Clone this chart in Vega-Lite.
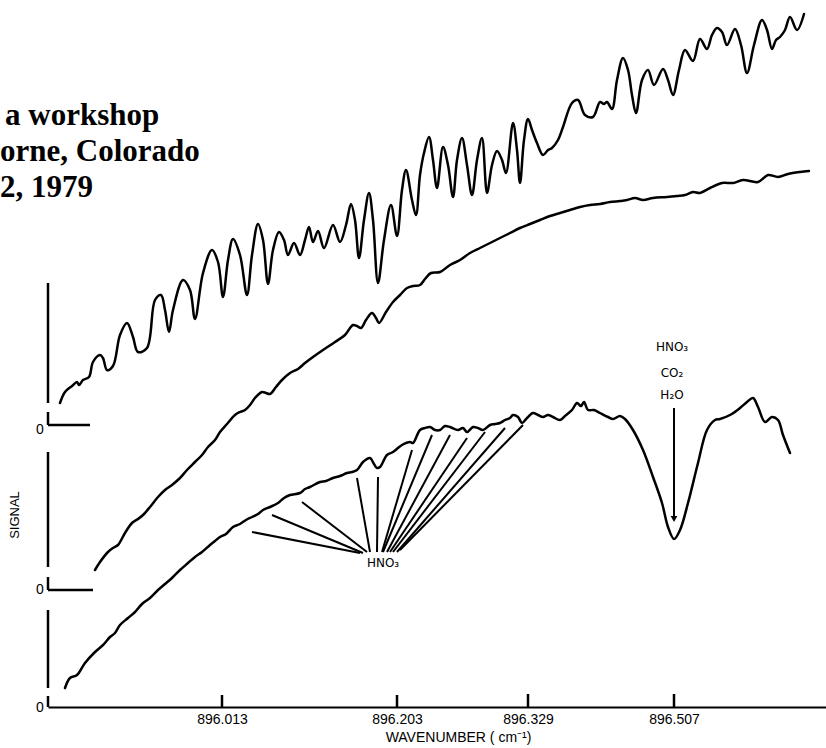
{
  "$schema": "https://vega.github.io/schema/vega-lite/v6.json",
  "width": 778,
  "height": 707,
  "autosize": "none",
  "padding": {"left": 48, "top": 0, "right": 0, "bottom": 41},
  "background": "white",
  "config": {"view": {"stroke": null}, "font": "Liberation Sans"},
  "datasets": {
    "traces": [
      {"trace": "top", "x": 60, "v": 304}, {"trace": "top", "x": 65, "v": 315}, {"trace": "top", "x": 72, "v": 321}, {"trace": "top", "x": 77, "v": 325}, {"trace": "top", "x": 79, "v": 322}, {"trace": "top", "x": 83, "v": 327}, {"trace": "top", "x": 89, "v": 330}, {"trace": "top", "x": 93, "v": 345}, {"trace": "top", "x": 100, "v": 352}, {"trace": "top", "x": 103, "v": 349}, {"trace": "top", "x": 107, "v": 337}, {"trace": "top", "x": 113, "v": 341}, {"trace": "top", "x": 120, "v": 372}, {"trace": "top", "x": 127, "v": 384}, {"trace": "top", "x": 133, "v": 370}, {"trace": "top", "x": 138, "v": 355}, {"trace": "top", "x": 147, "v": 359}, {"trace": "top", "x": 155, "v": 407}, {"trace": "top", "x": 161, "v": 412}, {"trace": "top", "x": 165, "v": 397}, {"trace": "top", "x": 169, "v": 375}, {"trace": "top", "x": 173, "v": 397}, {"trace": "top", "x": 183, "v": 427}, {"trace": "top", "x": 190, "v": 417}, {"trace": "top", "x": 195, "v": 388}, {"trace": "top", "x": 203, "v": 434}, {"trace": "top", "x": 212, "v": 457}, {"trace": "top", "x": 218, "v": 445}, {"trace": "top", "x": 223, "v": 410}, {"trace": "top", "x": 228, "v": 447}, {"trace": "top", "x": 233, "v": 468}, {"trace": "top", "x": 240, "v": 452}, {"trace": "top", "x": 247, "v": 412}, {"trace": "top", "x": 252, "v": 452}, {"trace": "top", "x": 258, "v": 483}, {"trace": "top", "x": 263, "v": 467}, {"trace": "top", "x": 268, "v": 423}, {"trace": "top", "x": 273, "v": 457}, {"trace": "top", "x": 279, "v": 475}, {"trace": "top", "x": 284, "v": 467}, {"trace": "top", "x": 288, "v": 452}, {"trace": "top", "x": 294, "v": 464}, {"trace": "top", "x": 300, "v": 452}, {"trace": "top", "x": 305, "v": 467}, {"trace": "top", "x": 309, "v": 480}, {"trace": "top", "x": 313, "v": 465}, {"trace": "top", "x": 318, "v": 476}, {"trace": "top", "x": 324, "v": 459}, {"trace": "top", "x": 333, "v": 482}, {"trace": "top", "x": 340, "v": 465}, {"trace": "top", "x": 346, "v": 482}, {"trace": "top", "x": 351, "v": 503}, {"trace": "top", "x": 355, "v": 487}, {"trace": "top", "x": 359, "v": 449}, {"trace": "top", "x": 364, "v": 487}, {"trace": "top", "x": 369, "v": 514}, {"trace": "top", "x": 373, "v": 487}, {"trace": "top", "x": 378, "v": 424}, {"trace": "top", "x": 384, "v": 467}, {"trace": "top", "x": 391, "v": 502}, {"trace": "top", "x": 397, "v": 471}, {"trace": "top", "x": 402, "v": 517}, {"trace": "top", "x": 406, "v": 537}, {"trace": "top", "x": 412, "v": 507}, {"trace": "top", "x": 416, "v": 492}, {"trace": "top", "x": 420, "v": 532}, {"trace": "top", "x": 424, "v": 554}, {"trace": "top", "x": 429, "v": 570}, {"trace": "top", "x": 433, "v": 547}, {"trace": "top", "x": 437, "v": 519}, {"trace": "top", "x": 443, "v": 560}, {"trace": "top", "x": 448, "v": 542}, {"trace": "top", "x": 453, "v": 510}, {"trace": "top", "x": 457, "v": 547}, {"trace": "top", "x": 462, "v": 569}, {"trace": "top", "x": 467, "v": 542}, {"trace": "top", "x": 472, "v": 512}, {"trace": "top", "x": 477, "v": 547}, {"trace": "top", "x": 482, "v": 569}, {"trace": "top", "x": 487, "v": 514}, {"trace": "top", "x": 492, "v": 542}, {"trace": "top", "x": 497, "v": 556}, {"trace": "top", "x": 502, "v": 547}, {"trace": "top", "x": 506, "v": 534}, {"trace": "top", "x": 513, "v": 584}, {"trace": "top", "x": 517, "v": 557}, {"trace": "top", "x": 520, "v": 524}, {"trace": "top", "x": 524, "v": 567}, {"trace": "top", "x": 528, "v": 588}, {"trace": "top", "x": 532, "v": 577}, {"trace": "top", "x": 537, "v": 564}, {"trace": "top", "x": 543, "v": 552}, {"trace": "top", "x": 548, "v": 557}, {"trace": "top", "x": 552, "v": 559}, {"trace": "top", "x": 558, "v": 567}, {"trace": "top", "x": 563, "v": 580}, {"trace": "top", "x": 572, "v": 604}, {"trace": "top", "x": 578, "v": 607}, {"trace": "top", "x": 585, "v": 592}, {"trace": "top", "x": 593, "v": 590}, {"trace": "top", "x": 600, "v": 605}, {"trace": "top", "x": 604, "v": 603}, {"trace": "top", "x": 607, "v": 605}, {"trace": "top", "x": 612, "v": 598}, {"trace": "top", "x": 617, "v": 627}, {"trace": "top", "x": 623, "v": 649}, {"trace": "top", "x": 628, "v": 637}, {"trace": "top", "x": 632, "v": 612}, {"trace": "top", "x": 636, "v": 594}, {"trace": "top", "x": 642, "v": 627}, {"trace": "top", "x": 648, "v": 637}, {"trace": "top", "x": 654, "v": 622}, {"trace": "top", "x": 663, "v": 638}, {"trace": "top", "x": 668, "v": 627}, {"trace": "top", "x": 673, "v": 612}, {"trace": "top", "x": 679, "v": 637}, {"trace": "top", "x": 685, "v": 657}, {"trace": "top", "x": 693, "v": 646}, {"trace": "top", "x": 700, "v": 668}, {"trace": "top", "x": 707, "v": 658}, {"trace": "top", "x": 712, "v": 672}, {"trace": "top", "x": 717, "v": 679}, {"trace": "top", "x": 722, "v": 675}, {"trace": "top", "x": 727, "v": 662}, {"trace": "top", "x": 735, "v": 678}, {"trace": "top", "x": 741, "v": 662}, {"trace": "top", "x": 747, "v": 634}, {"trace": "top", "x": 754, "v": 662}, {"trace": "top", "x": 762, "v": 687}, {"trace": "top", "x": 767, "v": 677}, {"trace": "top", "x": 772, "v": 658}, {"trace": "top", "x": 776, "v": 667}, {"trace": "top", "x": 780, "v": 670}, {"trace": "top", "x": 785, "v": 677}, {"trace": "top", "x": 790, "v": 690}, {"trace": "top", "x": 797, "v": 677}, {"trace": "top", "x": 804, "v": 693},

      {"trace": "middle", "x": 95, "v": 137}, {"trace": "middle", "x": 100, "v": 145}, {"trace": "middle", "x": 108, "v": 155}, {"trace": "middle", "x": 113, "v": 159}, {"trace": "middle", "x": 118, "v": 162}, {"trace": "middle", "x": 125, "v": 174}, {"trace": "middle", "x": 132, "v": 184}, {"trace": "middle", "x": 138, "v": 188}, {"trace": "middle", "x": 143, "v": 192}, {"trace": "middle", "x": 150, "v": 200}, {"trace": "middle", "x": 158, "v": 210}, {"trace": "middle", "x": 165, "v": 217}, {"trace": "middle", "x": 172, "v": 222}, {"trace": "middle", "x": 180, "v": 229}, {"trace": "middle", "x": 187, "v": 237}, {"trace": "middle", "x": 195, "v": 245}, {"trace": "middle", "x": 202, "v": 252}, {"trace": "middle", "x": 208, "v": 260}, {"trace": "middle", "x": 215, "v": 267}, {"trace": "middle", "x": 220, "v": 275}, {"trace": "middle", "x": 227, "v": 283}, {"trace": "middle", "x": 235, "v": 292}, {"trace": "middle", "x": 240, "v": 295}, {"trace": "middle", "x": 245, "v": 297}, {"trace": "middle", "x": 250, "v": 302}, {"trace": "middle", "x": 255, "v": 309}, {"trace": "middle", "x": 262, "v": 315}, {"trace": "middle", "x": 266, "v": 314}, {"trace": "middle", "x": 270, "v": 313}, {"trace": "middle", "x": 276, "v": 320}, {"trace": "middle", "x": 282, "v": 327}, {"trace": "middle", "x": 290, "v": 334}, {"trace": "middle", "x": 298, "v": 338}, {"trace": "middle", "x": 305, "v": 344}, {"trace": "middle", "x": 313, "v": 350}, {"trace": "middle", "x": 323, "v": 357}, {"trace": "middle", "x": 335, "v": 365}, {"trace": "middle", "x": 345, "v": 372}, {"trace": "middle", "x": 353, "v": 382}, {"trace": "middle", "x": 357, "v": 381}, {"trace": "middle", "x": 361, "v": 379}, {"trace": "middle", "x": 366, "v": 387}, {"trace": "middle", "x": 372, "v": 394}, {"trace": "middle", "x": 376, "v": 389}, {"trace": "middle", "x": 379, "v": 384}, {"trace": "middle", "x": 386, "v": 395}, {"trace": "middle", "x": 393, "v": 405}, {"trace": "middle", "x": 400, "v": 412}, {"trace": "middle", "x": 407, "v": 419}, {"trace": "middle", "x": 413, "v": 421}, {"trace": "middle", "x": 420, "v": 422}, {"trace": "middle", "x": 425, "v": 428}, {"trace": "middle", "x": 431, "v": 434}, {"trace": "middle", "x": 440, "v": 435}, {"trace": "middle", "x": 450, "v": 442}, {"trace": "middle", "x": 460, "v": 447}, {"trace": "middle", "x": 470, "v": 454}, {"trace": "middle", "x": 480, "v": 459}, {"trace": "middle", "x": 490, "v": 464}, {"trace": "middle", "x": 500, "v": 469}, {"trace": "middle", "x": 510, "v": 474}, {"trace": "middle", "x": 520, "v": 479}, {"trace": "middle", "x": 530, "v": 483}, {"trace": "middle", "x": 540, "v": 487}, {"trace": "middle", "x": 550, "v": 491}, {"trace": "middle", "x": 560, "v": 494}, {"trace": "middle", "x": 570, "v": 497}, {"trace": "middle", "x": 580, "v": 500}, {"trace": "middle", "x": 590, "v": 502}, {"trace": "middle", "x": 600, "v": 503}, {"trace": "middle", "x": 610, "v": 505}, {"trace": "middle", "x": 620, "v": 506}, {"trace": "middle", "x": 627, "v": 507}, {"trace": "middle", "x": 635, "v": 509}, {"trace": "middle", "x": 643, "v": 507}, {"trace": "middle", "x": 653, "v": 509}, {"trace": "middle", "x": 667, "v": 510}, {"trace": "middle", "x": 677, "v": 511}, {"trace": "middle", "x": 685, "v": 512}, {"trace": "middle", "x": 693, "v": 515}, {"trace": "middle", "x": 700, "v": 514}, {"trace": "middle", "x": 710, "v": 519}, {"trace": "middle", "x": 722, "v": 524}, {"trace": "middle", "x": 733, "v": 524}, {"trace": "middle", "x": 743, "v": 527}, {"trace": "middle", "x": 758, "v": 525}, {"trace": "middle", "x": 768, "v": 532}, {"trace": "middle", "x": 778, "v": 530}, {"trace": "middle", "x": 788, "v": 533}, {"trace": "middle", "x": 800, "v": 535}, {"trace": "middle", "x": 809, "v": 536},

      {"trace": "bottom", "x": 65, "v": 19}, {"trace": "bottom", "x": 70, "v": 29}, {"trace": "bottom", "x": 77, "v": 32}, {"trace": "bottom", "x": 85, "v": 44}, {"trace": "bottom", "x": 95, "v": 55}, {"trace": "bottom", "x": 103, "v": 62}, {"trace": "bottom", "x": 110, "v": 70}, {"trace": "bottom", "x": 115, "v": 74}, {"trace": "bottom", "x": 120, "v": 82}, {"trace": "bottom", "x": 128, "v": 89}, {"trace": "bottom", "x": 135, "v": 95}, {"trace": "bottom", "x": 142, "v": 103}, {"trace": "bottom", "x": 150, "v": 109}, {"trace": "bottom", "x": 158, "v": 117}, {"trace": "bottom", "x": 165, "v": 123}, {"trace": "bottom", "x": 172, "v": 129}, {"trace": "bottom", "x": 180, "v": 137}, {"trace": "bottom", "x": 188, "v": 144}, {"trace": "bottom", "x": 195, "v": 150}, {"trace": "bottom", "x": 202, "v": 155}, {"trace": "bottom", "x": 210, "v": 162}, {"trace": "bottom", "x": 215, "v": 166}, {"trace": "bottom", "x": 220, "v": 170}, {"trace": "bottom", "x": 226, "v": 173}, {"trace": "bottom", "x": 233, "v": 180}, {"trace": "bottom", "x": 240, "v": 183}, {"trace": "bottom", "x": 246, "v": 187}, {"trace": "bottom", "x": 252, "v": 190}, {"trace": "bottom", "x": 258, "v": 193}, {"trace": "bottom", "x": 263, "v": 197}, {"trace": "bottom", "x": 270, "v": 200}, {"trace": "bottom", "x": 278, "v": 204}, {"trace": "bottom", "x": 284, "v": 209}, {"trace": "bottom", "x": 290, "v": 212}, {"trace": "bottom", "x": 300, "v": 214}, {"trace": "bottom", "x": 305, "v": 218}, {"trace": "bottom", "x": 310, "v": 220}, {"trace": "bottom", "x": 320, "v": 225}, {"trace": "bottom", "x": 326, "v": 226}, {"trace": "bottom", "x": 333, "v": 229}, {"trace": "bottom", "x": 340, "v": 231}, {"trace": "bottom", "x": 347, "v": 234}, {"trace": "bottom", "x": 352, "v": 235}, {"trace": "bottom", "x": 357, "v": 237}, {"trace": "bottom", "x": 363, "v": 245}, {"trace": "bottom", "x": 370, "v": 249}, {"trace": "bottom", "x": 374, "v": 243}, {"trace": "bottom", "x": 377, "v": 239}, {"trace": "bottom", "x": 380, "v": 240}, {"trace": "bottom", "x": 387, "v": 252}, {"trace": "bottom", "x": 393, "v": 255}, {"trace": "bottom", "x": 398, "v": 259}, {"trace": "bottom", "x": 402, "v": 262}, {"trace": "bottom", "x": 410, "v": 265}, {"trace": "bottom", "x": 413, "v": 264}, {"trace": "bottom", "x": 420, "v": 277}, {"trace": "bottom", "x": 425, "v": 279}, {"trace": "bottom", "x": 430, "v": 280}, {"trace": "bottom", "x": 435, "v": 277}, {"trace": "bottom", "x": 440, "v": 277}, {"trace": "bottom", "x": 445, "v": 281}, {"trace": "bottom", "x": 450, "v": 280}, {"trace": "bottom", "x": 458, "v": 277}, {"trace": "bottom", "x": 463, "v": 279}, {"trace": "bottom", "x": 467, "v": 275}, {"trace": "bottom", "x": 473, "v": 280}, {"trace": "bottom", "x": 478, "v": 279}, {"trace": "bottom", "x": 483, "v": 277}, {"trace": "bottom", "x": 490, "v": 282}, {"trace": "bottom", "x": 495, "v": 283}, {"trace": "bottom", "x": 500, "v": 284}, {"trace": "bottom", "x": 505, "v": 287}, {"trace": "bottom", "x": 510, "v": 289}, {"trace": "bottom", "x": 513, "v": 292}, {"trace": "bottom", "x": 518, "v": 290}, {"trace": "bottom", "x": 522, "v": 284}, {"trace": "bottom", "x": 527, "v": 289}, {"trace": "bottom", "x": 533, "v": 294}, {"trace": "bottom", "x": 538, "v": 292}, {"trace": "bottom", "x": 543, "v": 290}, {"trace": "bottom", "x": 548, "v": 292}, {"trace": "bottom", "x": 553, "v": 290}, {"trace": "bottom", "x": 560, "v": 287}, {"trace": "bottom", "x": 565, "v": 291}, {"trace": "bottom", "x": 572, "v": 297}, {"trace": "bottom", "x": 577, "v": 304}, {"trace": "bottom", "x": 581, "v": 301}, {"trace": "bottom", "x": 584, "v": 305}, {"trace": "bottom", "x": 588, "v": 297}, {"trace": "bottom", "x": 594, "v": 297}, {"trace": "bottom", "x": 600, "v": 294}, {"trace": "bottom", "x": 608, "v": 290}, {"trace": "bottom", "x": 613, "v": 288}, {"trace": "bottom", "x": 620, "v": 291}, {"trace": "bottom", "x": 625, "v": 288}, {"trace": "bottom", "x": 633, "v": 277}, {"trace": "bottom", "x": 643, "v": 257}, {"trace": "bottom", "x": 653, "v": 230}, {"trace": "bottom", "x": 662, "v": 204}, {"trace": "bottom", "x": 668, "v": 180}, {"trace": "bottom", "x": 674, "v": 168}, {"trace": "bottom", "x": 680, "v": 177}, {"trace": "bottom", "x": 688, "v": 204}, {"trace": "bottom", "x": 698, "v": 244}, {"trace": "bottom", "x": 707, "v": 277}, {"trace": "bottom", "x": 715, "v": 287}, {"trace": "bottom", "x": 720, "v": 288}, {"trace": "bottom", "x": 730, "v": 292}, {"trace": "bottom", "x": 740, "v": 299}, {"trace": "bottom", "x": 747, "v": 305}, {"trace": "bottom", "x": 753, "v": 309}, {"trace": "bottom", "x": 758, "v": 300}, {"trace": "bottom", "x": 765, "v": 285}, {"trace": "bottom", "x": 772, "v": 290}, {"trace": "bottom", "x": 778, "v": 287}, {"trace": "bottom", "x": 783, "v": 272}, {"trace": "bottom", "x": 790, "v": 254}
    ],
    "rules": [
      {"kind": "axis", "x": 48, "x2": 48, "y": 304, "y2": 424},
      {"kind": "axis", "x": 48, "x2": 48, "y": 282, "y2": 295},
      {"kind": "axis", "x": 48, "x2": 90, "y": 282, "y2": 282},
      {"kind": "axis", "x": 48, "x2": 48, "y": 140, "y2": 255},
      {"kind": "axis", "x": 48, "x2": 48, "y": 117, "y2": 130},
      {"kind": "axis", "x": 48, "x2": 93, "y": 117, "y2": 117},
      {"kind": "axis", "x": 48, "x2": 48, "y": 19, "y2": 97},
      {"kind": "axis", "x": 48, "x2": 48, "y": 0, "y2": 11},
      {"kind": "axis", "x": 222, "x2": 222, "y": 0, "y2": 12},
      {"kind": "axis", "x": 397, "x2": 397, "y": 0, "y2": 12},
      {"kind": "axis", "x": 528, "x2": 528, "y": 0, "y2": 13},
      {"kind": "axis", "x": 674, "x2": 674, "y": 0, "y2": 13},
      {"kind": "fan", "x": 252, "x2": 360, "y": 175, "y2": 154},
      {"kind": "fan", "x": 272, "x2": 363, "y": 192, "y2": 154},
      {"kind": "fan", "x": 302, "x2": 367, "y": 205, "y2": 155},
      {"kind": "fan", "x": 357, "x2": 370, "y": 229, "y2": 155},
      {"kind": "fan", "x": 378, "x2": 377, "y": 230, "y2": 155},
      {"kind": "fan", "x": 412, "x2": 382, "y": 257, "y2": 155},
      {"kind": "fan", "x": 432, "x2": 383, "y": 272, "y2": 155},
      {"kind": "fan", "x": 450, "x2": 387, "y": 272, "y2": 155},
      {"kind": "fan", "x": 467, "x2": 390, "y": 269, "y2": 155},
      {"kind": "fan", "x": 485, "x2": 393, "y": 275, "y2": 155},
      {"kind": "fan", "x": 505, "x2": 397, "y": 279, "y2": 155},
      {"kind": "fan", "x": 523, "x2": 400, "y": 282, "y2": 157},
      {"kind": "fan", "x": 674, "x2": 674, "y": 190, "y2": 299}
    ],
    "labels": [
      {"kind": "page", "x": 5, "y": 582, "text": "a workshop"},
      {"kind": "page", "x": 0, "y": 546, "text": "orne, Colorado"},
      {"kind": "page", "x": 0, "y": 510, "text": "2, 1979"},
      {"kind": "note", "x": 383, "y": 144, "text": "HNO₃"},
      {"kind": "note", "x": 672, "y": 360, "text": "HNO₃"},
      {"kind": "note", "x": 672, "y": 334, "text": "CO₂"},
      {"kind": "note", "x": 672, "y": 312, "text": "H₂O"},
      {"kind": "zero", "x": 40, "y": 277, "text": "0"},
      {"kind": "zero", "x": 40, "y": 117, "text": "0"},
      {"kind": "zero", "x": 40, "y": -1, "text": "0"},
      {"kind": "side", "x": 15, "y": 192, "text": "SIGNAL"}
    ],
    "arrowhead": [{"x": 674, "y": 188}]
  },
  "layer": [
    {
      "data": {"name": "traces"},
      "mark": {"type": "line", "color": "black", "strokeWidth": 2.5, "interpolate": "catmull-rom", "strokeJoin": "round", "strokeCap": "round"},
      "encoding": {
        "x": {"field": "x", "type": "quantitative", "scale": {"domain": [48, 826], "nice": false, "zero": false},
          "axis": {"values": [222, 397, 528, 674], "labelExpr": "datum.value == 222 ? '896.013' : datum.value == 397 ? '896.203' : datum.value == 528 ? '896.329' : '896.507'", "ticks": false, "grid": false, "domainColor": "black", "domainWidth": 2, "labelFontSize": 14, "labelColor": "black", "labelPadding": 5, "labelFlush": false, "labelOverlap": false, "title": "WAVENUMBER ( cm⁻¹)", "titleFontSize": 14, "titleFontWeight": "normal", "titleColor": "black", "titlePadding": 4, "titleX": 410, "titleAlign": "center"}},
        "y": {"field": "v", "type": "quantitative", "scale": {"domain": [0, 707], "nice": false, "zero": false}, "axis": null},
        "detail": {"field": "trace"}
      }
    },
    {
      "data": {"name": "rules"},
      "transform": [{"filter": "datum.kind == 'axis'"}],
      "mark": {"type": "rule", "color": "black", "strokeWidth": 2.5},
      "encoding": {
        "x": {"field": "x", "type": "quantitative"},
        "x2": {"field": "x2"},
        "y": {"field": "y", "type": "quantitative"},
        "y2": {"field": "y2"}
      }
    },
    {
      "data": {"name": "rules"},
      "transform": [{"filter": "datum.kind == 'fan'"}],
      "mark": {"type": "rule", "color": "black", "strokeWidth": 2},
      "encoding": {
        "x": {"field": "x", "type": "quantitative"},
        "x2": {"field": "x2"},
        "y": {"field": "y", "type": "quantitative"},
        "y2": {"field": "y2"}
      }
    },
    {
      "data": {"name": "arrowhead"},
      "mark": {"type": "point", "shape": "triangle-down", "filled": true, "color": "black", "size": 45, "opacity": 1},
      "encoding": {
        "x": {"field": "x", "type": "quantitative"},
        "y": {"field": "y", "type": "quantitative"}
      }
    },
    {
      "data": {"name": "labels"},
      "transform": [{"filter": "datum.kind == 'page'"}],
      "mark": {"type": "text", "font": "Liberation Serif", "fontSize": 31, "fontWeight": "bold", "align": "left", "baseline": "alphabetic", "color": "black"},
      "encoding": {
        "x": {"field": "x", "type": "quantitative"},
        "y": {"field": "y", "type": "quantitative"},
        "text": {"field": "text"}
      }
    },
    {
      "data": {"name": "labels"},
      "transform": [{"filter": "datum.kind == 'note'"}],
      "mark": {"type": "text", "font": "DejaVu Sans", "fontSize": 12, "align": "center", "baseline": "middle", "color": "black"},
      "encoding": {
        "x": {"field": "x", "type": "quantitative"},
        "y": {"field": "y", "type": "quantitative"},
        "text": {"field": "text"}
      }
    },
    {
      "data": {"name": "labels"},
      "transform": [{"filter": "datum.kind == 'zero'"}],
      "mark": {"type": "text", "font": "Liberation Sans", "fontSize": 14, "align": "center", "baseline": "middle", "color": "black"},
      "encoding": {
        "x": {"field": "x", "type": "quantitative"},
        "y": {"field": "y", "type": "quantitative"},
        "text": {"field": "text"}
      }
    },
    {
      "data": {"name": "labels"},
      "transform": [{"filter": "datum.kind == 'side'"}],
      "mark": {"type": "text", "font": "Liberation Sans", "fontSize": 13, "angle": 270, "align": "center", "baseline": "middle", "color": "black"},
      "encoding": {
        "x": {"field": "x", "type": "quantitative"},
        "y": {"field": "y", "type": "quantitative"},
        "text": {"field": "text"}
      }
    }
  ]
}
